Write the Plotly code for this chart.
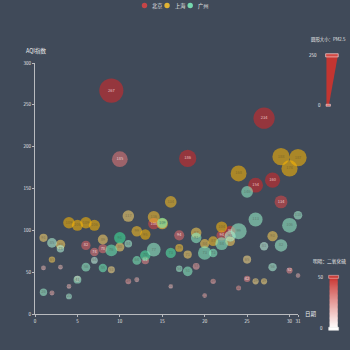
import plotly.graph_objects as go
import colorsys

# ---------------- data ----------------
days = list(range(1, 32))

bj_aqi = [55, 25, 56, 33, 42, 82, 74, 78, 267, 185, 39, 41, 64, 108, 108, 33, 94, 186, 57, 22, 39, 94, 99, 31, 42, 154, 234, 160, 134, 52, 46]
bj_pm25 = [9, 11, 7, 7, 24, 58, 49, 55, 216, 127, 19, 11, 38, 79, 63, 6, 66, 142, 31, 8, 15, 69, 73, 12, 27, 117, 185, 120, 96, 24, 5]
bj_so2 = [6, 9, 5, 6, 16, 33, 27, 29, 64, 27, 15, 7, 22, 41, 26, 5, 31, 79, 14, 10, 13, 39, 48, 16, 22, 58, 69, 50, 41, 21, 6]

sh_aqi = [91, 65, 83, 109, 106, 109, 106, 89, 53, 80, 117, 99, 95, 116, 108, 134, 79, 71, 97, 84, 87, 104, 87, 168, 65, 39, 39, 93, 188, 174, 187]
sh_pm25 = [45, 27, 60, 81, 77, 81, 77, 65, 33, 55, 81, 71, 69, 87, 80, 83, 43, 46, 71, 57, 63, 77, 62, 128, 45, 24, 24, 68, 143, 131, 143]
sh_so2 = [23, 29, 27, 51, 51, 51, 51, 26, 17, 24, 24, 42, 50, 40, 37, 43, 37, 25, 31, 31, 41, 48, 28, 56, 17, 17, 19, 29, 51, 50, 53]

gz_aqi = [26, 85, 78, 21, 41, 56, 64, 55, 76, 91, 84, 64, 70, 77, 109, 73, 54, 51, 91, 73, 73, 84, 93, 99, 146, 113, 81, 56, 82, 106, 118]
gz_pm25 = [37, 62, 38, 21, 42, 52, 30, 48, 85, 81, 39, 51, 69, 105, 68, 68, 27, 61, 71, 102, 50, 94, 77, 130, 84, 108, 48, 48, 92, 116, 50]
gz_so2 = [13, 8, 7, 9, 13, 16, 2, 26, 27, 40, 11, 23, 36, 16, 29, 34, 12, 19, 18, 19, 20, 18, 7, 15, 17, 15, 3, 9, 13, 16, 11]

series_names = ["北京", "上海", "广州"]
series_colors = ["#dd4444", "#fec42c", "#80F1BE"]
x_ticks = [0, 5, 10, 15, 20, 25, 30, 31]
y_ticks = [0, 50, 100, 150, 200, 250, 300]

BG = (64, 74, 89)
FONT = "Noto Sans CJK SC, Noto Sans, sans-serif"


def hex2rgb(h):
    h = h.lstrip("#")
    return tuple(int(h[i:i + 2], 16) for i in (0, 2, 4))


def with_lightness(hexc, light):
    r, g, b = [c / 255 for c in hex2rgb(hexc)]
    hh, ll, ss = colorsys.rgb_to_hls(r, g, b)
    r2, g2, b2 = colorsys.hls_to_rgb(hh, light, ss)
    return (r2 * 255, g2 * 255, b2 * 255)


def point_style(base, so2):
    v = min(max(so2, 0), 50)
    light = 0.9 + (v / 50) * (0.5 - 0.9)
    c = with_lightness(base, light)
    fill = "rgba(%d,%d,%d,0.8)" % tuple(round(x) for x in c)
    shown = [0.8 * c[i] + 0.2 * BG[i] for i in range(3)]
    lum = (0.299 * shown[0] + 0.587 * shown[1] + 0.114 * shown[2]) / 255
    if lum > 0.6:
        t = [0.55 * 60 + 0.45 * shown[i] for i in range(3)]
    else:
        t = [0.7 * 255 + 0.3 * shown[i] for i in range(3)]
    return fill, "rgb(%d,%d,%d)" % tuple(round(x) for x in t)


def size_of(pm):
    v = min(max(pm, 0), 250)
    return (10 + v / 250 * 60) * 0.39


fig = go.Figure()
for name, base, aqi, pm, so2 in [
    ("北京", series_colors[0], bj_aqi, bj_pm25, bj_so2),
    ("上海", series_colors[1], sh_aqi, sh_pm25, sh_so2),
    ("广州", series_colors[2], gz_aqi, gz_pm25, gz_so2),
]:
    fills, tcols = zip(*[point_style(base, s) for s in so2])
    fig.add_trace(go.Scatter(
        x=days, y=aqi, name=name, mode="markers+text",
        text=[str(a) for a in aqi], textposition="middle center",
        textfont=dict(size=4, color=list(tcols), family=FONT),
        marker=dict(size=[size_of(p) for p in pm], color=list(fills),
                    line=dict(width=0)),
        showlegend=False, hoverinfo="x+y", cliponaxis=False,
    ))

# ---------------- layout geometry (pixels) ----------------
W = H = 350
L, R, T, B = 35, 298.5, 62.7, 314


def px(xp):
    return (xp - L) / (R - L)


def py(yp):
    return (B - yp) / (B - T)


shapes = []
annotations = []

# legend
leg_x = [144.7, 167.3, 190.5]
for i, (nm, col) in enumerate(zip(series_names, series_colors)):
    cx, cy, r = leg_x[i], 5.2, 2.7
    rgb = hex2rgb(col)
    shapes.append(dict(type="circle", xref="paper", yref="paper",
                       x0=px(cx - r), x1=px(cx + r), y0=py(cy + r), y1=py(cy - r),
                       fillcolor="rgba(%d,%d,%d,0.85)" % rgb, line=dict(width=0)))
    annotations.append(dict(text=nm, xref="paper", yref="paper", x=px(cx + 5.8), y=py(cy),
                            xanchor="left", yanchor="middle", showarrow=False,
                            font=dict(size=5.2, color="#e8e8e8", family=FONT)))

# axis names
annotations.append(dict(text="AQI指数", xref="paper", yref="paper", x=px(23.5), y=py(50.5),
                        xanchor="left", yanchor="middle", showarrow=False,
                        font=dict(size=5.5, color="#eeeeee", family=FONT)))
annotations.append(dict(text="日期", xref="paper", yref="paper", x=px(303.5), y=py(314),
                        xanchor="left", yanchor="middle", showarrow=False,
                        font=dict(size=5.5, color="#eeeeee", family=FONT)))

# visualMap 1 : PM2.5 size
annotations.append(dict(text="圆形大小：PM2.5", xref="paper", yref="paper", x=px(348.5), y=py(39),
                        xanchor="right", yanchor="middle", showarrow=False,
                        font=dict(size=4.4, color="#eeeeee", family=FONT)))
shapes.append(dict(type="path", xref="paper", yref="paper",
                   path="M %f,%f L %f,%f L %f,%f L %f,%f Z" % (
                       px(327), py(55), px(338.5), py(55), px(329.5), py(104.5), px(327), py(104.5)),
                   fillcolor="#c23531", line=dict(width=0)))
shapes.append(dict(type="rect", xref="paper", yref="paper",
                   x0=px(326.2), x1=px(338.8), y0=py(56.6), y1=py(53.4),
                   fillcolor="#d04a45", line=dict(color="rgba(255,220,220,0.9)", width=0.7)))
shapes.append(dict(type="rect", xref="paper", yref="paper",
                   x0=px(326.6), x1=px(331), y0=py(106), y1=py(104),
                   fillcolor="#d96b68", line=dict(color="rgba(255,220,220,0.9)", width=0.6)))
annotations.append(dict(text="250", xref="paper", yref="paper", x=px(320), y=py(54.5),
                        xanchor="right", yanchor="middle", showarrow=False,
                        font=dict(size=4.5, color="#eeeeee", family=FONT)))
annotations.append(dict(text="0", xref="paper", yref="paper", x=px(323.5), y=py(105),
                        xanchor="right", yanchor="middle", showarrow=False,
                        font=dict(size=4.5, color="#eeeeee", family=FONT)))

# visualMap 2 : SO2 lightness
annotations.append(dict(text="明暗：二氧化硫", xref="paper", yref="paper", x=px(348.5), y=py(261.3),
                        xanchor="right", yanchor="middle", showarrow=False,
                        font=dict(size=4.7, color="#eeeeee", family=FONT)))
top_y, bot_y = 277.0, 328.5
nseg = 40
step = (bot_y - top_y) / nseg
for k in range(nseg):
    y0 = top_y + step * k
    y1 = y0 + step + 0.8
    f = (k + 0.5) / nseg
    light = 0.48 + (f ** 0.9) * (1.0 - 0.48)
    c = with_lightness("#c23531", min(light, 0.995))
    shapes.append(dict(type="rect", xref="paper", yref="paper",
                       x0=px(330.2), x1=px(338.2), y0=py(min(y1, bot_y)), y1=py(y0),
                       fillcolor="rgb(%d,%d,%d)" % tuple(round(v) for v in c), line=dict(width=0)))
shapes.append(dict(type="rect", xref="paper", yref="paper",
                   x0=px(329.2), x1=px(339.2), y0=py(278.3), y1=py(275.3),
                   fillcolor="#c9403c", line=dict(color="rgba(255,210,210,0.8)", width=0.6)))
shapes.append(dict(type="rect", xref="paper", yref="paper",
                   x0=px(329.2), x1=px(339.2), y0=py(330.3), y1=py(327.3),
                   fillcolor="#ffffff", line=dict(color="rgba(230,230,230,0.9)", width=0.6)))
annotations.append(dict(text="50", xref="paper", yref="paper", x=px(326), y=py(276.8),
                        xanchor="right", yanchor="middle", showarrow=False,
                        font=dict(size=4.5, color="#eeeeee", family=FONT)))
annotations.append(dict(text="0", xref="paper", yref="paper", x=px(326), y=py(328.3),
                        xanchor="right", yanchor="middle", showarrow=False,
                        font=dict(size=4.5, color="#eeeeee", family=FONT)))

axis_common = dict(showgrid=False, zeroline=False, showline=True,
                   linecolor="rgba(225,225,225,0.75)", linewidth=1.3,
                   ticks="outside", ticklen=2, tickwidth=0.8,
                   tickcolor="rgba(225,225,225,0.75)",
                   tickfont=dict(size=4.5, color="#e6e6e6", family=FONT),
                   fixedrange=True)

fig.update_layout(
    width=W, height=H,
    margin=dict(l=L, r=W - R, t=T, b=H - B, pad=0, autoexpand=False),
    paper_bgcolor="#404a59", plot_bgcolor="#404a59",
    xaxis=dict(range=[0, 31], tickvals=x_ticks, ticktext=[str(v) for v in x_ticks], **axis_common),
    yaxis=dict(range=[0, 300], tickvals=y_ticks, ticktext=[str(v) for v in y_ticks], **axis_common),
    shapes=shapes, annotations=annotations,
    showlegend=False,
    font=dict(family=FONT),
)

fig.write_html("out.html")
